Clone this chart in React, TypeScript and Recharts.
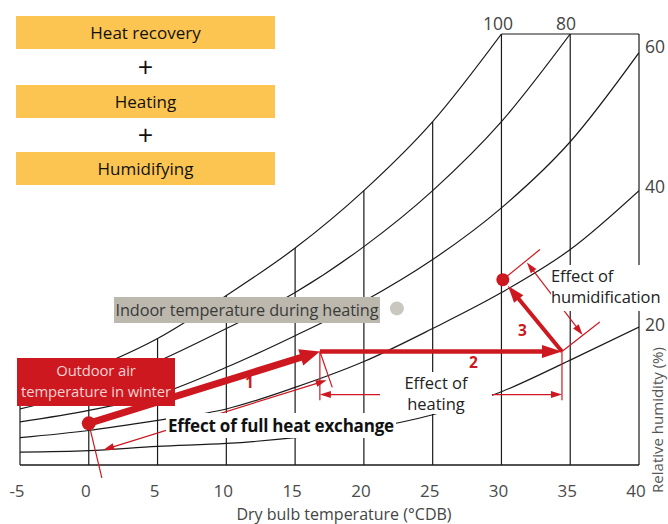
import React from 'react';
import { LineChart, Line, XAxis, YAxis, ReferenceLine, ReferenceDot } from 'recharts';

// Dry-bulb temperature samples (°C) and axis ticks
const temperatures = [-5, 0, 5, 10, 15, 20, 25, 30, 35, 40];
const tempTicks = [-5, 0, 5, 10, 15, 20, 25, 30, 35, 40];

// Humidity (chart units, top of chart = humidityMax) of each relative humidity curve, read at each temperature
const rh100 = [4.9, 6.6, 8.8, 11.8, 15.1, 19.1, 23.9, 30.0];
const rh80 = [3.9, 5.2, 7.2, 9.5, 12.0, 15.2, 19.1, 23.9, 30.0];
const rh60 = [3.0, 3.8, 4.9, 6.8, 9.0, 11.4, 14.3, 17.9, 22.5, 28.7];
const rh40 = [1.9, 2.4, 3.1, 3.9, 5.4, 7.2, 9.5, 12.0, 15.0, 19.1];
const rh20 = [0.9, 1.0, 1.3, 1.5, 1.9, 2.5, 3.5, 5.1, 7.3, 9.6];
const humidityMax = 30;

// Process states: [temperature, humidity]
const outdoorState = [0, 2.9];
const recoveredState = [16.8, 7.9];
const heatedState = [34.4, 7.9];
const supplyState = [30.1, 12.9];
const indoorState = [22.4, 10.9];

const RED = '#cd1820';
const INK = '#1a1a1a';
const FONT = "'Open Sans', 'Noto Sans', sans-serif";

const chartData = temperatures.map((t, i) => ({
  t,
  rh100: rh100[i],
  rh80: rh80[i],
  rh60: rh60[i],
  rh40: rh40[i],
  rh20: rh20[i],
}));

type ArrowOpt = {
  color: string;
  width: number;
  headLen?: number;
  headW?: number;
  start?: boolean;
  end?: boolean;
  trimEnd?: number;
};

const makeArrow = (o: ArrowOpt) => (p: any) => {
  const x1 = Number(p.x1), y1 = Number(p.y1), x2 = Number(p.x2), y2 = Number(p.y2);
  const dx = x2 - x1, dy = y2 - y1;
  const len = Math.hypot(dx, dy) || 1;
  const ux = dx / len, uy = dy / len;
  const nx = -uy, ny = ux;
  const hl = o.headLen ?? 0, hw = o.headW ?? 0;
  const trim = o.trimEnd ?? 0;
  const ex = x2 - ux * trim, ey = y2 - uy * trim;
  const heads: string[] = [];
  let sx = x1, sy = y1, lx = ex, ly = ey;
  if (o.end) {
    const bx = ex - ux * hl, by = ey - uy * hl;
    heads.push(`${ex},${ey} ${bx + (nx * hw) / 2},${by + (ny * hw) / 2} ${bx - (nx * hw) / 2},${by - (ny * hw) / 2}`);
    lx = bx + ux * 1.5; ly = by + uy * 1.5;
  }
  if (o.start) {
    const bx = x1 + ux * hl, by = y1 + uy * hl;
    heads.push(`${x1},${y1} ${bx + (nx * hw) / 2},${by + (ny * hw) / 2} ${bx - (nx * hw) / 2},${by - (ny * hw) / 2}`);
    sx = bx - ux * 1.5; sy = by - uy * 1.5;
  }
  return (
    <g>
      <line x1={sx} y1={sy} x2={lx} y2={ly} stroke={o.color} strokeWidth={o.width} />
      {heads.map((pts, i) => (
        <polygon key={i} points={pts} fill={o.color} />
      ))}
    </g>
  );
};

const plainLine = (color: string, width: number) => (p: any) => (
  <line x1={p.x1} y1={p.y1} x2={p.x2} y2={p.y2} stroke={color} strokeWidth={width} />
);

const seg = (a: number[], b: number[]) => [
  { x: a[0], y: a[1] },
  { x: b[0], y: b[1] },
];

const abs = (x: number, y: number, extra: React.CSSProperties = {}): React.CSSProperties => ({
  position: 'absolute',
  left: x,
  top: y,
  fontFamily: FONT,
  ...extra,
});

export default function App() {
  const gridTops = temperatures.map((t, i) => (rh100[i] !== undefined ? rh100[i] : humidityMax));
  return (
    <div style={{ position: 'absolute', left: 0, top: 0, width: 668, height: 524, background: '#fff', overflow: 'hidden' }}>
      <LineChart
        width={668}
        height={524}
        data={chartData}
        margin={{ top: 34, right: 29, bottom: 29, left: 20 }}
      >
        <XAxis
          dataKey="t"
          type="number"
          domain={[-5, 40]}
          ticks={tempTicks}
          axisLine={false}
          tickLine={false}
          height={30}
          tickMargin={14}
          interval={0}
          allowDataOverflow
          tick={{ fill: '#4a4a4a', fontSize: 17, fontFamily: FONT, dx: -3 }}
        />
        <YAxis type="number" domain={[0, humidityMax]} hide width={0} allowDataOverflow />

        {/* frame */}
        <ReferenceLine segment={seg([-5, 0], [40, 0])} stroke={INK} strokeWidth={1.4} ifOverflow="visible" />
        <ReferenceLine segment={seg([30, humidityMax], [40, humidityMax])} stroke={INK} strokeWidth={1.2} ifOverflow="visible" />
        {temperatures.map((t, i) => (
          <ReferenceLine
            key={'g' + t}
            segment={seg([t, 0], [t, gridTops[i]])}
            stroke={INK}
            strokeWidth={1.2}
            ifOverflow="visible"
          />
        ))}

        <Line dataKey="rh100" type="monotone" stroke={INK} strokeWidth={1.2} dot={false} isAnimationActive={false} />
        <Line dataKey="rh80" type="monotone" stroke={INK} strokeWidth={1.2} dot={false} isAnimationActive={false} />
        <Line dataKey="rh60" type="monotone" stroke={INK} strokeWidth={1.2} dot={false} isAnimationActive={false} />
        <Line dataKey="rh40" type="monotone" stroke={INK} strokeWidth={1.2} dot={false} isAnimationActive={false} />
        <Line dataKey="rh20" type="monotone" stroke={INK} strokeWidth={1.2} dot={false} isAnimationActive={false} />

        {/* full heat exchange guides */}
        <ReferenceLine segment={seg(outdoorState, [0.95, -0.9])} ifOverflow="visible" shape={plainLine(RED, 1.2)} />
        <ReferenceLine segment={seg(recoveredState, [17.7, 5.4])} ifOverflow="visible" shape={plainLine(RED, 1.2)} />
        <ReferenceLine
          segment={seg([1.05, 1.05], [17.3, 5.9])}
          ifOverflow="visible"
          shape={makeArrow({ color: RED, width: 1.2, headLen: 11, headW: 7, start: true, end: true })}
        />
        {/* heating guides */}
        <ReferenceLine segment={seg(recoveredState, [recoveredState[0], 4.5])} ifOverflow="visible" shape={plainLine(RED, 1.2)} />
        <ReferenceLine segment={seg(heatedState, [heatedState[0], 4.5])} ifOverflow="visible" shape={plainLine(RED, 1.2)} />
        <ReferenceLine
          segment={seg([recoveredState[0], 4.9], [heatedState[0], 4.9])}
          ifOverflow="visible"
          shape={makeArrow({ color: RED, width: 1.2, headLen: 11, headW: 7, start: true, end: true })}
        />
        {/* humidification guides */}
        <ReferenceLine segment={seg(supplyState, [32.8, 15.0])} ifOverflow="visible" shape={plainLine(RED, 1.2)} />
        <ReferenceLine segment={seg(heatedState, [37.15, 9.95])} ifOverflow="visible" shape={plainLine(RED, 1.2)} />
        <ReferenceLine
          segment={seg([31.85, 14.1], [35.9, 9.05])}
          ifOverflow="visible"
          shape={makeArrow({ color: RED, width: 1.2, headLen: 11, headW: 7, start: true, end: true })}
        />

        {/* process arrows */}
        <ReferenceLine
          segment={seg(outdoorState, recoveredState)}
          ifOverflow="visible"
          shape={makeArrow({ color: RED, width: 7, headLen: 20, headW: 17, end: true })}
        />
        <ReferenceLine
          segment={seg(recoveredState, heatedState)}
          ifOverflow="visible"
          shape={makeArrow({ color: RED, width: 4.5, headLen: 20, headW: 13, end: true })}
        />
        <ReferenceLine
          segment={seg(heatedState, supplyState)}
          ifOverflow="visible"
          shape={makeArrow({ color: RED, width: 4, headLen: 17, headW: 12, end: true, trimEnd: 8 })}
        />

        <ReferenceDot x={outdoorState[0]} y={outdoorState[1]} r={7} fill={RED} stroke="none" ifOverflow="visible" />
        <ReferenceDot x={supplyState[0]} y={supplyState[1]} r={6.5} fill={RED} stroke="none" ifOverflow="visible" />
        <ReferenceDot x={indoorState[0]} y={indoorState[1]} r={7} fill="#cac6c0" stroke="none" ifOverflow="visible" />
      </LineChart>

      {/* legend boxes */}
      {['Heat recovery', '+', 'Heating', '+', 'Humidifying'].map((s, i) => {
        const top = [16, 53, 85, 121, 152][i];
        const isBox = s !== '+';
        return (
          <div
            key={i}
            style={abs(16, top, {
              width: 259,
              height: isBox ? 33 : 28,
              background: isBox ? '#fcc552' : 'transparent',
              color: '#111',
              fontSize: isBox ? 17 : 27,
              lineHeight: isBox ? '33px' : '28px',
              textAlign: 'center',
              fontWeight: 400,
            })}
          >
            {s}
          </div>
        );
      })}

      {/* indoor label */}
      <div
        style={abs(114, 297, {
          width: 266,
          height: 26,
          background: '#bcb8ad',
          color: '#3a3a3a',
          fontSize: 16.3,
          lineHeight: '26px',
          textAlign: 'center',
          whiteSpace: 'nowrap',
          letterSpacing: -0.1,
        })}
      >
        Indoor temperature during heating
      </div>

      {/* outdoor label */}
      <div style={abs(17, 358, { width: 158, height: 48, background: RED })} />
      <div
        style={abs(17, 360, {
          width: 158,
          height: 20,
          color: '#f6d2d2',
          fontSize: 14.8,
          lineHeight: '20px',
          textAlign: 'center',
          whiteSpace: 'nowrap',
          letterSpacing: -0.1,
        })}
      >
        Outdoor air
      </div>
      <div
        style={abs(17, 381, {
          width: 158,
          height: 20,
          color: '#f6d2d2',
          fontSize: 14.8,
          lineHeight: '20px',
          textAlign: 'center',
          whiteSpace: 'nowrap',
          letterSpacing: -0.1,
        })}
      >
        temperature in winter
      </div>

      {/* effect labels */}
      <div style={abs(166, 413, { background: '#fff', color: '#111', fontSize: 17, fontWeight: 700, lineHeight: '25px', padding: '0 2px', whiteSpace: 'nowrap', letterSpacing: -0.2 })}>
        Effect of full heat exchange
      </div>
      <div style={abs(380, 372, { width: 112, background: '#fff', color: '#222', fontSize: 16.5, lineHeight: '21px', textAlign: 'center', height: 42 })}>
        Effect of
        <br />
        heating
      </div>
      <div style={abs(551, 265, { width: 117, background: '#fff', color: '#222', fontSize: 16.5, lineHeight: '21px', height: 46, whiteSpace: 'nowrap', letterSpacing: -0.1 })}>
        Effect of
        <br />
        humidification
      </div>

      {/* step numbers */}
      <div style={abs(245, 371, { color: RED, fontSize: 15.5, fontWeight: 700 })}>1</div>
      <div style={abs(469, 351, { color: RED, fontSize: 15.5, fontWeight: 700 })}>2</div>
      <div style={abs(518, 319, { color: RED, fontSize: 15.5, fontWeight: 700 })}>3</div>

      {/* RH labels */}
      <div style={abs(478, 11, { width: 40, textAlign: 'center', color: '#444', fontSize: 17.5 })}>100</div>
      <div style={abs(546, 11, { width: 40, textAlign: 'center', color: '#444', fontSize: 17.5 })}>80</div>
      <div style={abs(645, 34, { color: '#444', fontSize: 17.5 })}>60</div>
      <div style={abs(645, 174, { color: '#444', fontSize: 17.5 })}>40</div>
      <div style={abs(645, 312, { color: '#444', fontSize: 17.5 })}>20</div>
      <div
        style={abs(657, 420, {
          color: '#555',
          fontSize: 15,
          whiteSpace: 'nowrap',
          transform: 'translate(-50%, -50%) rotate(-90deg)',
        })}
      >
        Relative humidity (%)
      </div>

      <div style={abs(0, 503, { width: 688, textAlign: 'center', color: '#444', fontSize: 16 })}>
        Dry bulb temperature (°CDB)
      </div>
    </div>
  );
}
